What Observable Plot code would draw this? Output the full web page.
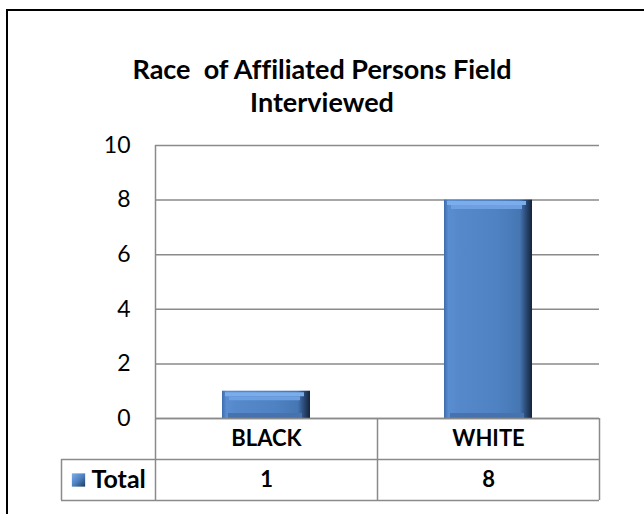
<!DOCTYPE html>
<html>
<head>
<meta charset="utf-8">
<script src="https://cdn.jsdelivr.net/npm/d3@7"></script>
<script src="https://cdn.jsdelivr.net/npm/@observablehq/plot@0.6"></script>
<style>
  body { margin: 0; width: 644px; height: 514px; overflow: hidden; background: #fff; font-family: Lato, "Open Sans", sans-serif; font-variant-ligatures: none; }
  #frame { position: absolute; left: 6px; top: 9px; width: 720px; height: 600px; border: 2px solid #000; box-sizing: border-box; }
  #title { position: absolute; left: 0; top: 52px; width: 644px; text-align: center; font-weight: bold; font-size: 27px; line-height: 33px; color: #000; white-space: pre; }
  #chart { position: absolute; left: 0; top: 0; }
</style>
</head>
<body>
<div id="frame"></div>
<div id="title">Race  of Affiliated Persons Field
Interviewed</div>
<div id="chart"></div>
<script>
// Data
const categories = ["BLACK", "WHITE"];
const totals = [1, 8];
const yTicks = [0, 2, 4, 6, 8, 10];
const seriesName = "Total";

const rows = categories.map((race, i) => ({race, total: totals[i]}));

// Layout
const W = 644, H = 514;
const mL = 155, mR = 45, mT = 145, mB = 96;
const plotH = H - mT - mB;
const bandW = (W - mL - mR) / categories.length;
const barInset = (bandW - 88) / 2;
const rowH = 41;            // height of each data-table row
const legendColW = 94;      // width of the series-name cell
const lineColor = "#8a8a8a";
const fontSize = 22;

const chart = Plot.plot({
  width: W,
  height: H,
  marginLeft: mL,
  marginRight: mR,
  marginTop: mT,
  marginBottom: mB,
  style: {background: "transparent", color: "#000", fontFamily: "Lato, 'Open Sans', sans-serif", overflow: "visible"},
  x: {type: "band", domain: categories, paddingInner: 0, paddingOuter: 0, axis: null},
  y: {domain: [0, 10], axis: null},
  marks: [
    // horizontal gridlines
    Plot.gridY(yTicks, {stroke: lineColor, strokeOpacity: 1, strokeWidth: 1.5}),
    // y tick labels
    Plot.axisY(yTicks, {tickSize: 0, tickPadding: 25, fontSize: 23, label: null}),
    // bars
    Plot.barY(rows, {x: "race", y: "total", fill: "url(#barFace)", insetLeft: barInset, insetRight: barInset}),
    // bevel highlight on top of each bar
    Plot.tickY(rows, {x: "race", y: "total", stroke: "#7badec", strokeWidth: 4, dy: 3, insetLeft: barInset + 3, insetRight: barInset + 6}),
    Plot.tickY(rows, {x: "race", y: "total", stroke: "#6d9fe1", strokeWidth: 4, dy: 7, insetLeft: barInset + 7, insetRight: barInset + 10}),
    // slightly darker lower edge of each bar
    Plot.tickY(rows, {x: "race", y: () => 0, stroke: "#4673ae", strokeWidth: 5, dy: -3, insetLeft: barInset + 6, insetRight: barInset + 8}),
    // data table: horizontal lines
    Plot.ruleY([0], {stroke: lineColor, strokeWidth: 1.5}),
    Plot.tickY([0], {y: (d) => d, dy: rowH, insetLeft: -legendColW, stroke: lineColor, strokeWidth: 1.5}),
    Plot.tickY([0], {y: (d) => d, dy: 2 * rowH, insetLeft: -legendColW, stroke: lineColor, strokeWidth: 1.5}),
    // data table: vertical lines (value axis line continues into the table)
    Plot.ruleX(categories.slice(0, 1), {x: (d) => d, dx: -bandW / 2, insetBottom: -2 * rowH, stroke: lineColor, strokeWidth: 1.5}),
    Plot.ruleX(categories.slice(1), {x: (d) => d, dx: -bandW / 2, insetTop: plotH, insetBottom: -2 * rowH, stroke: lineColor, strokeWidth: 1.5}),
    Plot.ruleX(categories.slice(-1), {x: (d) => d, dx: bandW / 2, insetTop: plotH, insetBottom: -2 * rowH, stroke: lineColor, strokeWidth: 1.5}),
    Plot.ruleX(categories.slice(0, 1), {x: (d) => d, dx: -bandW / 2 - legendColW, insetTop: plotH + rowH, insetBottom: -2 * rowH, stroke: lineColor, strokeWidth: 1.5}),
    // table header: category names
    Plot.text(rows, {x: "race", y: () => 0, text: "race", dy: rowH / 2, fontSize, fontWeight: "bold", lineAnchor: "middle"}),
    // table body: values
    Plot.text(rows, {x: "race", y: () => 0, text: (d) => String(d.total), dy: rowH * 1.5, fontSize, fontWeight: "bold", lineAnchor: "middle"}),
    // series key and name
    Plot.dot([seriesName], {frameAnchor: "left", y: () => 0, dx: -77, dy: rowH * 1.5, symbol: "square", r: 7.5, fill: "url(#keyFill)", stroke: null}),
    Plot.text([seriesName], {frameAnchor: "left", y: () => 0, text: (d) => d, dx: -64, dy: rowH * 1.5, textAnchor: "start", fontSize: 25, fontWeight: "bold", lineAnchor: "middle"})
  ]
});

// gradients for the bevelled bar faces and the key swatch
const defs = d3.select(chart).insert("defs", ":first-child");
const face = defs.append("linearGradient").attr("id", "barFace").attr("x1", 0).attr("x2", 1).attr("y1", 0).attr("y2", 0);
[[0, "#3d6cab"], [0.05, "#5a8ed2"], [0.15, "#5589cb"], [0.6, "#4f82c2"], [0.86, "#4677b4"], [0.92, "#2f5180"], [1, "#13233a"]]
  .forEach(([o, c]) => face.append("stop").attr("offset", o).attr("stop-color", c));
const key = defs.append("linearGradient").attr("id", "keyFill").attr("x1", 0).attr("x2", 1).attr("y1", 0).attr("y2", 1);
[[0, "#7eaee8"], [0.5, "#4f82c2"], [1, "#1f3a60"]]
  .forEach(([o, c]) => key.append("stop").attr("offset", o).attr("stop-color", c));

document.getElementById("chart").append(chart);
</script>
</body>
</html>
